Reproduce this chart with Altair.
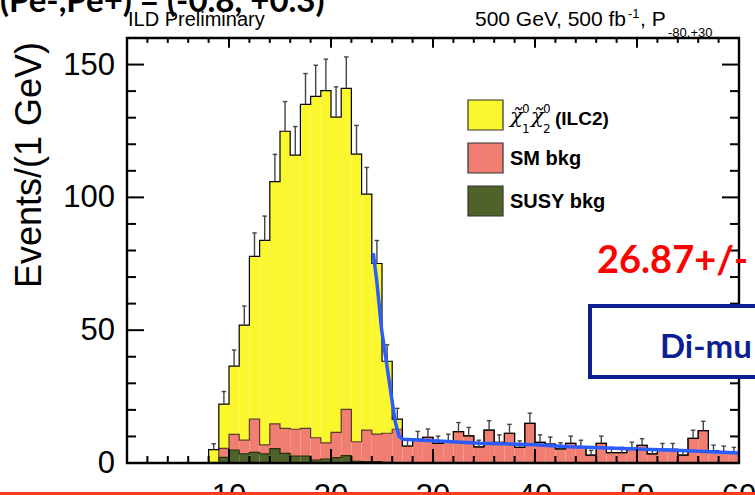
import altair as alt
import pandas as pd

# ---- histogram contents: 1 GeV bins on [0, 60) ----
bin_low = list(range(60))

susy_bkg = ([0] * 9
            + [2.1, 4.9, 3.4, 4.0, 3.4, 5.4, 3.6, 2.6, 2.6, 1.1,
               1.5, 2.0, 2.8, 0.6, 0.5, 0.5, 0.2]
            + [0] * 34)

sm_bkg = ([0] * 9
          + [3.4, 5.9, 5.2, 12.5, 3.4, 9.3, 9.4, 10.1, 10.4, 8.4,
             6.1, 9.5, 17.4, 7.4, 11.9, 10.4, 11.0, 12.7]
          + [6.4, 8.9, 9.7, 7.4, 8.0, 11.8, 10.2, 6.1, 12.4, 7.8,
             11.2, 5.9, 14.9, 7.8, 7.1, 5.3, 7.4, 6.1, 3.0, 7.4,
             3.9, 3.9, 5.5, 6.6, 3.4, 5.1, 5.1, 3.0, 9.3, 12.2,
             4.6, 4.3, 3.9])

signal = ([0] * 8
          + [5.0, 16.7, 25.7, 43.3, 61.3, 77.0, 91.2, 111.9, 103.2, 122.0,
             128.5, 132.6, 118.7, 120.8, 108.3, 88.8, 64.2, 27.1, 3.8]
          + [0] * 33)

# fitted edge + background shape
fit_x = [24.15, 24.5, 24.97, 25.7, 26.27, 26.5, 26.7, 27.1, 30, 34.6, 40, 43.4, 50, 55, 60]
fit_y = [79, 68, 50, 31, 16, 12.4, 9.9, 8.9, 8.4, 7.4, 6.9, 6.1, 5.3, 4.6, 3.8]

series_keys = ["sig", "sm", "susy"]
series_labels = ["(ILC2)", "SM bkg", "SUSY bkg"]
series_fill = ["#faf72e", "#f07f72", "#4e6229"]
series_line = ["#000000", "#5a3a33", "#26300f"]

y_major = [0, 50, 100, 150]
y_minor = [v for v in range(10, 161, 10) if v not in y_major]
x_major = [0, 10, 20, 30, 40, 50, 60]
x_minor = [v for v in range(2, 60, 2) if v not in x_major]
x_labels = [10, 20, 30, 40, 50, 60]

W, H = 612, 425
FONT = "Liberation Sans"

hist = pd.DataFrame({"lo": bin_low, "susy": susy_bkg, "sm": sm_bkg, "sig": signal})
hist["hi"] = hist["lo"] + 1
hist["mid"] = hist["lo"] + 0.5
hist["top_susy"] = hist["susy"]
hist["top_sm"] = hist["top_susy"] + hist["sm"]
hist["total"] = hist["top_sm"] + hist["sig"]

# stacked pieces
pieces = []
for key, lo_col, hi_col in [("susy", None, "top_susy"), ("sm", "top_susy", "top_sm"), ("sig", "top_sm", "total")]:
    part = pd.DataFrame({
        "lo": hist["lo"], "hi": hist["hi"],
        "y0": 0.0 if lo_col is None else hist[lo_col],
        "y1": hist[hi_col], "key": key,
    })
    pieces.append(part[part["y1"] > part["y0"]])
fills = pd.concat(pieces, ignore_index=True)

# step outlines of each stacked level
steps = []
for key, col in [("susy", "top_susy"), ("sm", "top_sm"), ("sig", "total")]:
    xs_ = list(hist["lo"]) + [60]
    ys_ = list(hist[col]) + [hist[col].iloc[-1]]
    steps.append(pd.DataFrame({"x": xs_, "y": ys_, "key": key, "order": range(len(xs_))}))
steps = pd.concat(steps, ignore_index=True)

errs = hist[hist["total"] > 0][["mid", "total"]]
fit = pd.DataFrame({"x": fit_x, "y": fit_y})

xs = alt.Scale(domain=[0, 60], nice=False, zero=False)
ys = alt.Scale(domain=[0, 160], nice=False, zero=False)

fill_layer = alt.Chart(fills).mark_rect(strokeWidth=0).encode(
    x=alt.X("lo:Q", scale=xs, axis=None),
    x2="hi:Q",
    y=alt.Y("y0:Q", scale=ys, axis=None),
    y2="y1:Q",
    color=alt.Color("key:N", scale=alt.Scale(domain=series_keys, range=series_fill), legend=None),
)

outline_layer = alt.Chart(steps).mark_line(interpolate="step-after", strokeWidth=1.2).encode(
    x=alt.X("x:Q", scale=xs, axis=None),
    y=alt.Y("y:Q", scale=ys, axis=None),
    detail="key:N",
    order="order:Q",
    stroke=alt.Stroke("key:N", scale=alt.Scale(domain=series_keys, range=series_line), legend=None),
)

err_base = alt.Chart(errs).transform_calculate(
    up="datum.total + sqrt(datum.total)",
    cl="datum.mid - 0.22",
    cr="datum.mid + 0.22",
)
err_layer = err_base.mark_rule(color="#444444", strokeWidth=1.4).encode(
    x=alt.X("mid:Q", scale=xs, axis=None),
    y=alt.Y("total:Q", scale=ys, axis=None),
    y2="up:Q",
)
cap_layer = err_base.mark_rule(color="#444444", strokeWidth=1.4).encode(
    x=alt.X("cl:Q", scale=xs, axis=None),
    x2="cr:Q",
    y=alt.Y("up:Q", scale=ys, axis=None),
)

fit_layer = alt.Chart(fit).mark_line(color="#2a5cff", strokeWidth=3.5).encode(
    x=alt.X("x:Q", scale=xs, axis=None),
    y=alt.Y("y:Q", scale=ys, axis=None),
)


def yticks(vals, length):
    d = pd.DataFrame({"v": vals})
    left = alt.Chart(d).mark_rule(color="black", strokeWidth=2).encode(
        y=alt.Y("v:Q", scale=ys, axis=None), x=alt.value(0), x2=alt.value(length))
    right = alt.Chart(d).mark_rule(color="black", strokeWidth=2).encode(
        y=alt.Y("v:Q", scale=ys, axis=None), x=alt.value(W), x2=alt.value(W - length))
    return [left, right]


def xticks(vals, length):
    d = pd.DataFrame({"v": vals})
    bottom = alt.Chart(d).mark_rule(color="black", strokeWidth=2).encode(
        x=alt.X("v:Q", scale=xs, axis=None), y=alt.value(H), y2=alt.value(H - length))
    top = alt.Chart(d).mark_rule(color="black", strokeWidth=2).encode(
        x=alt.X("v:Q", scale=xs, axis=None), y=alt.value(0), y2=alt.value(length * 0.7))
    return [bottom, top]


tick_layers = yticks(y_major, 17) + yticks(y_minor, 9) + xticks(x_major, 14) + xticks(x_minor, 7)

# tick labels
ylab_layer = alt.Chart(pd.DataFrame({"v": y_major})).mark_text(
    font=FONT, fontSize=31, align="right", baseline="middle", color="black", dy=1,
).encode(y=alt.Y("v:Q", scale=ys, axis=None), x=alt.value(-12), text="v:Q")
xlab_layer = alt.Chart(pd.DataFrame({"v": x_labels})).mark_text(
    font=FONT, fontSize=31, align="center", baseline="top", color="black",
).encode(x=alt.X("v:Q", scale=xs, axis=None), y=alt.value(H + 19), text="v:Q")

frame = alt.Chart(pd.DataFrame({"a": [0]})).mark_rect(fill=None, stroke="black", strokeWidth=2.4).encode(
    x=alt.value(0), x2=alt.value(W), y=alt.value(0), y2=alt.value(H))


def txt(s, x, y, size, weight="normal", color="black", font=FONT, align="left",
        baseline="alphabetic", angle=0, style="normal"):
    return alt.Chart(pd.DataFrame({"s": [s]})).mark_text(
        x=x, y=y, fontSize=size, fontWeight=weight, color=color, font=font,
        align=align, baseline=baseline, angle=angle, fontStyle=style,
    ).encode(text="s:N")


# legend
legend_layers = []
for i, (lab, col) in enumerate(zip(series_labels, series_fill)):
    top = 62 + 43 * i
    legend_layers.append(
        alt.Chart(pd.DataFrame({"k": [lab]})).mark_rect(fill=col, stroke="#333333", strokeWidth=1.2).encode(
            x=alt.value(341), x2=alt.value(376), y=alt.value(top), y2=alt.value(top + 30)))
legend_layers += [
    txt("SM bkg", 383, 127, 20, "bold"),
    txt("SUSY bkg", 383, 170, 20, "bold"),
    txt("\u03c7\u0303", 383, 85, 21, font="DejaVu Serif", style="italic"),
    txt("0", 395, 75, 12, font="DejaVu Sans"),
    txt("1", 395, 95, 12, font="DejaVu Sans"),
    txt("\u03c7\u0303", 404, 85, 21, font="DejaVu Serif", style="italic"),
    txt("0", 416, 75, 12, font="DejaVu Sans"),
    txt("2", 416, 95, 12, font="DejaVu Sans"),
    txt(series_labels[0], 428, 87, 19, "bold"),
]

# headline texts
top_texts = [
    txt("(Pe-,Pe+) = (-0.8, +0.3)", -127, -26, 33, "bold", font="Lato"),
    txt("ILD Preliminary", 1, -12, 20),
    txt("500 GeV, 500 fb", 348, -12, 21),
    txt("-1", 501, -20, 13),
    txt(", P", 513, -12, 21),
    txt("-80,+30", 541, -1, 13),
    txt("Events/(1 GeV)", -97, 127, 36, align="center", baseline="middle", angle=270),
]

note_box = alt.Chart(pd.DataFrame({"a": [0]})).mark_rect(fill="white", stroke="#0b1f92", strokeWidth=4).encode(
    x=alt.value(463), x2=alt.value(720), y=alt.value(268), y2=alt.value(339))

notes = [
    txt("26.87+/-", 470, 235, 38, "bold", color="#ff0000", font="Lato"),
    note_box,
    txt("Di-mu", 533, 320, 33, "bold", color="#0b1f92", font="Lato"),
]

bottom_line = alt.Chart(pd.DataFrame({"a": [0]})).mark_rule(color="#fe3b1f", strokeWidth=4).encode(
    x=alt.value(-127), x2=alt.value(W + 16), y=alt.value(H + 31))

chart = alt.layer(
    fill_layer, outline_layer, err_layer, cap_layer, fit_layer,
    *tick_layers, frame, ylab_layer, xlab_layer,
    *legend_layers, *top_texts, *notes, bottom_line,
).properties(
    width=W, height=H,
    autosize=alt.AutoSizeParams(type="none"),
    padding={"left": 127, "top": 38, "right": 16, "bottom": 32},
).configure_view(stroke=None)

chart.save("out.html", embed_options={"renderer": "svg", "actions": False})
